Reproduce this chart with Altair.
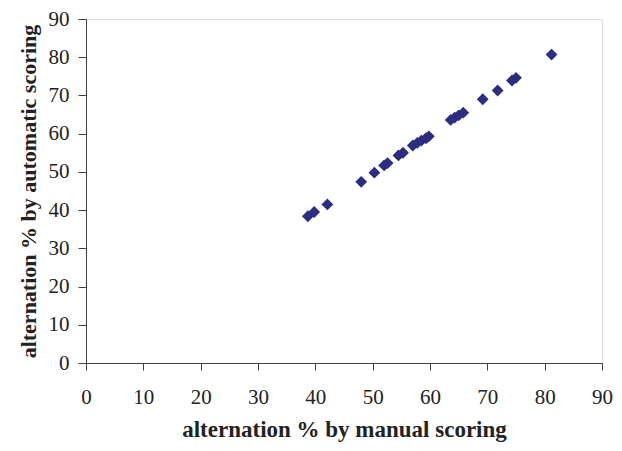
import altair as alt
import pandas as pd

manual = [38.7, 39.8, 42.1, 48.0, 50.3, 52.0, 52.6, 54.5, 55.3, 57.0, 57.8, 58.5,
          59.3, 59.8, 63.6, 64.3, 65.0, 65.8, 69.2, 71.8, 74.3, 75.0, 81.2]
automatic = [38.4, 39.5, 41.5, 47.4, 49.8, 51.7, 52.3, 54.3, 55.0, 56.9, 57.6, 58.2,
             58.8, 59.3, 63.6, 64.2, 64.8, 65.5, 69.0, 71.3, 73.9, 74.6, 80.7]

df = pd.DataFrame({"manual": manual, "automatic": automatic})

ticks = list(range(0, 91, 10))
font = "Liberation Serif"

chart = alt.Chart(df).mark_point(
    shape="diamond", filled=True, size=140, color="#2b2d7f", opacity=1
).encode(
    x=alt.X("manual:Q", scale=alt.Scale(domain=[0, 90], nice=False),
            axis=alt.Axis(values=ticks, title="alternation % by manual scoring",
                          grid=False, domainColor="#404040", tickColor="#404040",
                          tickSize=7, labelPadding=16, labelFlush=False, labelFont=font,
                          labelFontSize=21, labelColor="#222222", titleFont=font,
                          titleFontSize=23, titleFontWeight="bold", titleColor="#222222",
                          titlePadding=11)),
    y=alt.Y("automatic:Q", scale=alt.Scale(domain=[0, 90], nice=False),
            axis=alt.Axis(values=ticks, title="alternation % by automatic scoring",
                          grid=False, domainColor="#404040", tickColor="#404040",
                          tickSize=8, labelPadding=9, labelFlush=False, labelFont=font,
                          labelFontSize=21, labelColor="#222222", titleFont=font,
                          titleFontSize=22, titleFontWeight="bold", titleColor="#222222",
                          titlePadding=8)),
).properties(
    width=516, height=344,
    padding={"left": 78, "top": 11, "right": 12, "bottom": 80},
    autosize=alt.AutoSizeParams(type="none"),
).configure_view(stroke=None).configure(background="white")

chart.save("out.html", embed_options={"renderer": "svg", "actions": False})
